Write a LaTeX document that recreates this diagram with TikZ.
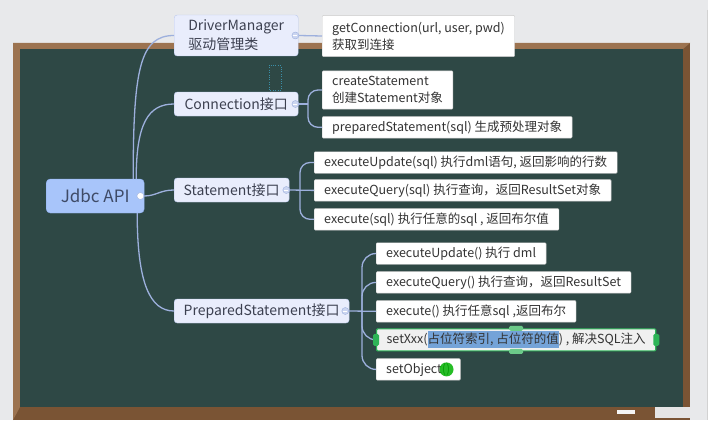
\documentclass[tikz,border=0pt]{standalone}
\usepackage{fontspec}
\setmainfont{Noto Sans CJK SC}
\usepackage{xcolor}
\usetikzlibrary{positioning}

\definecolor{wall}{HTML}{E8E9EB}
\definecolor{board}{HTML}{2E4845}
\definecolor{wood}{HTML}{7A5434}
\definecolor{woodlight}{HTML}{9C7350}
\definecolor{rootfill}{HTML}{A8C5FA}
\definecolor{rootline}{HTML}{8EAFEE}
\definecolor{roottext}{HTML}{3E4A66}
\definecolor{topicfill}{HTML}{E9EDFC}
\definecolor{topicline}{HTML}{BCCAEE}
\definecolor{topictext}{HTML}{3C4050}
\definecolor{leafline}{HTML}{C8C8C8}
\definecolor{leaftext}{HTML}{333333}
\definecolor{linkblue}{HTML}{9DB0DD}
\definecolor{selgreen}{HTML}{2DB457}
\definecolor{selblue}{HTML}{74A3D8}
\definecolor{dragline}{HTML}{3A8FA8}

\newcommand{\picked}[1]{{\setlength{\fboxsep}{0pt}\colorbox{selblue}{\strut #1}}}

\begin{document}
\begin{tikzpicture}[
  x=1pt, y=-1pt,
  font=\fontsize{12.5}{17}\selectfont,
  rootbox/.style={draw=rootline, fill=rootfill, rounded corners=4pt,
                  minimum width=98pt, minimum height=34pt, text=roottext,
                  font=\fontsize{17}{20}\selectfont, anchor=west},
  topic/.style={draw=topicline, fill=topicfill, rounded corners=3pt,
                minimum height=24pt, inner xsep=9.5pt, text=topictext,
                align=left, font=\fontsize{14}{19}\selectfont, anchor=west},
  leaf/.style={draw=leafline, fill=white, rounded corners=1pt,
               minimum height=21.5pt, inner xsep=10pt, inner ysep=2.5pt,
               text=leaftext, align=left, anchor=west},
  fold/.style={circle, draw=linkblue, fill=topicfill!60!linkblue,
               inner sep=0pt, minimum size=7pt,
               path picture={\draw[white, line width=0.8pt]
                 ([xshift=-2pt]path picture bounding box.center) --
                 ([xshift=2pt]path picture bounding box.center);}},
  link/.style={draw=linkblue, line width=1.3pt},
  fork/.style={link, rounded corners=10pt},
  node distance=7pt
]
  % wall and chalkboard
  \useasboundingbox (0,0) rectangle (708,420);
  \fill[wall] (0,0) rectangle (708,420);
  \draw[gray!35] (707,10) -- (707,420);
  \fill[wood] (13,43) rectangle (690,420);
  \fill[woodlight] (13,43) -- (690,43) -- (683,49) -- (20,49) -- (20,407) -- (13,420) -- cycle;
  \fill[board] (20,49) rectangle (683,407);
  \fill[white!92!gray] (617,410) rectangle (635,414);
  \fill[gray!20] (655,407) rectangle (690,418);

  % topics
  \node[rootbox] (root) at (46,196) {Jdbc API};
  \node[topic, minimum width=124pt, inner ysep=5pt] (dm) at (174,35.5) {DriverManager\\驱动管理类};
  \node[topic, minimum width=124pt] (conn) at (174,104) {Connection接口};
  \node[topic] (stmt) at (174,190) {Statement接口};
  \node[topic] (ps) at (174,311) {PreparedStatement接口};

  % leaves
  \node[leaf, inner ysep=6.5pt] (gc) at (322,36) {getConnection(url, user, pwd)\\获取到连接};
  \node[leaf, inner ysep=5.5pt] (cs) at (322,90) {createStatement\\创建Statement对象};
  \node[leaf, below=7pt of cs.south west, anchor=north west] (pst) {preparedStatement(sql) 生成预处理对象};

  \node[leaf] (s1) at (314,162.5) {executeUpdate(sql) 执行dml语句, 返回影响的行数};
  \node[leaf, below=6pt of s1.south west, anchor=north west] (s2) {executeQuery(sql) 执行查询，返回ResultSet对象};
  \node[leaf, below=7pt of s2.south west, anchor=north west] (s3) {execute(sql) 执行任意的sql , 返回布尔值};

  \node[leaf] (p1) at (376,253.5) {executeUpdate() 执行 dml};
  \node[leaf, below=of p1.south west, anchor=north west] (p2) {executeQuery() 执行查询，返回ResultSet};
  \node[leaf, below=of p2.south west, anchor=north west] (p3) {execute() 执行任意sql ,返回布尔};
  \node[leaf, below=6pt of p3.south west, anchor=north west, draw=selgreen,
        line width=1.2pt, fill=gray!12] (p4) {setXxx(\picked{占位符索引, 占位符的值}) , 解决SQL注入};
  \node[leaf, below=of p4.south west, anchor=north west] (p5) {setObject()};

  % fold buttons
  \node[fold, fill=white] (rootc) at ([xshift=-4pt]root.east) {};
  \node[fold] (dmc) at ([xshift=-3pt]dm.east) {};
  \node[fold] (connc) at ([xshift=-3pt]conn.east) {};
  \node[fold] (stmtc) at ([xshift=-3pt]stmt.east) {};
  \node[fold] (psc) at ([xshift=-4pt]ps.east) {};

  % links from the root
  \coordinate (rup) at ([xshift=38pt]root.north);
  \coordinate (rup2) at ([xshift=41pt]root.north);
  \coordinate (rdn) at ([xshift=42pt]root.south);
  \draw[link] (rup) .. controls +(0,-110) and +(-34,0) .. (dm.west);
  \draw[link] (rup2) .. controls +(0,-55) and +(-26,0) .. (conn.west);
  \draw[link] (rootc.east) .. controls +(12,0) and +(-14,0) .. (stmt.west);
  \draw[link] (rdn) .. controls +(0,70) and +(-24,0) .. (ps.west);

  % links to the leaves
  \draw[link] (dmc.east) -- (gc.west);

  \coordinate (cj) at (308,104);
  \draw[link] (connc.east) -- (cj);
  \draw[fork] (cj) |- (cs.west);
  \draw[fork] (cj) |- (pst.west);

  \coordinate (sj) at (300,190);
  \draw[link] (stmtc.east) -- (s2.west);
  \draw[fork] (sj) |- (s1.west);
  \draw[fork] (sj) |- (s3.west);

  \coordinate (pj) at (362,311);
  \draw[link] (psc.east) -- (p3.west);
  \draw[fork, rounded corners=14pt] (pj) |- (p1.west);
  \draw[fork, rounded corners=14pt] (pj) |- (p2.west);
  \draw[fork, rounded corners=14pt] (pj) |- (p4.west);
  \draw[fork, rounded corners=14pt] (pj) |- (p5.west);

  % selection handles, drag frame and cursor
  \fill[selgreen, rounded corners=1.5pt] ([xshift=-3pt,yshift=-6pt]p4.west) rectangle ([xshift=3pt,yshift=6pt]p4.west);
  \fill[selgreen, rounded corners=1.5pt] ([xshift=-3pt,yshift=-6pt]p4.east) rectangle ([xshift=3pt,yshift=6pt]p4.east);
  \fill[selgreen!70, rounded corners=1.5pt] ([xshift=-7pt,yshift=-2.5pt]p4.north) rectangle ([xshift=7pt,yshift=2.5pt]p4.north);
  \fill[selgreen!70, rounded corners=1.5pt] ([xshift=-7pt,yshift=-2.5pt]p4.south) rectangle ([xshift=7pt,yshift=2.5pt]p4.south);
  \draw[dragline, dotted] (269,65) rectangle (281,90);
  \fill[green!70!black, opacity=0.85] ([xshift=-14pt]p5.east) circle (7pt);
\end{tikzpicture}
\end{document}
